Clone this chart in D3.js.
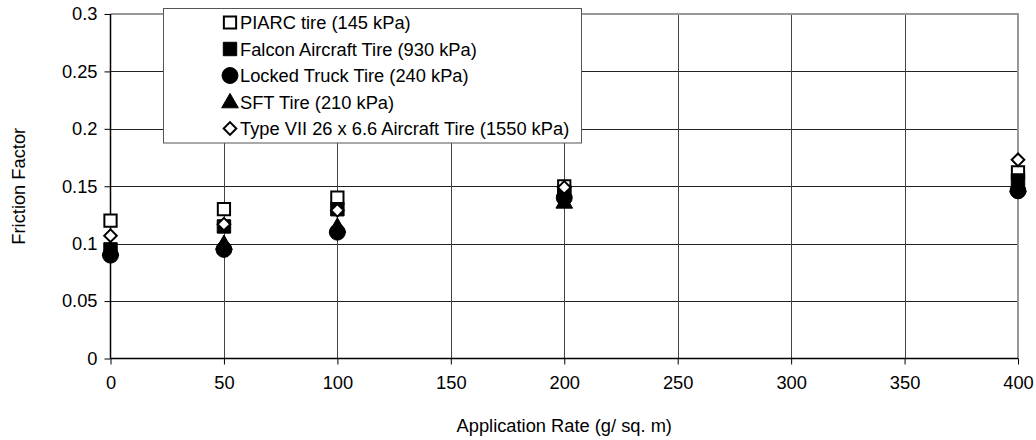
<!DOCTYPE html>
<html>
<head>
<meta charset="utf-8">
<script src="https://cdn.jsdelivr.net/npm/d3@7"></script>
<style>
  html, body { margin: 0; padding: 0; background: #fff; }
  svg { display: block; font-family: "Liberation Sans", Arial, sans-serif; }
</style>
</head>
<body>
<svg id="chart" width="1036" height="440"></svg>
<script>
// Application rates (g/ sq. m)
const rates = [0, 50, 100, 200, 400];

// Friction factor per tire type
const piarc   = [0.12, 0.13, 0.14, 0.15, 0.162];
const falcon  = [0.095, 0.115, 0.13, 0.145, 0.155];
const locked  = [0.09, 0.095, 0.11, 0.14, 0.146];
const sft     = [0.095, 0.10, 0.115, 0.136, 0.15];
const typeVII = [0.107, 0.117, 0.129, 0.149, 0.173];

const seriesNames = [
  "PIARC tire (145 kPa)",
  "Falcon Aircraft Tire (930 kPa)",
  "Locked Truck Tire (240 kPa)",
  "SFT Tire (210 kPa)",
  "Type VII 26 x 6.6 Aircraft Tire (1550 kPa)"
];

const xTicks = [0, 50, 100, 150, 200, 250, 300, 350, 400];
const yTicks = [0, 0.05, 0.1, 0.15, 0.2, 0.25, 0.3];

const series = [
  { name: seriesNames[0], values: piarc,   shape: "square",   fill: "#fff" },
  { name: seriesNames[1], values: falcon,  shape: "square",   fill: "#000" },
  { name: seriesNames[2], values: locked,  shape: "circle",   fill: "#000" },
  { name: seriesNames[3], values: sft,     shape: "triangle", fill: "#000" },
  { name: seriesNames[4], values: typeVII, shape: "diamond",  fill: "#fff" }
];

const FONT = 18.3;
const svg = d3.select("#chart");
const plotL = 110.5, plotR = 1018, plotT = 14, plotB = 358.5;

const x = d3.scaleLinear().domain([0, 400]).range([plotL, plotR]);
const y = d3.scaleLinear().domain([0, 0.3]).range([plotB, plotT]);

// gridlines
const grid = svg.append("g");
grid.selectAll("line.h").data(yTicks.filter(d => d > 0)).join("line")
  .attr("x1", plotL).attr("x2", plotR)
  .attr("y1", d => Math.round(y(d)) + 0.5).attr("y2", d => Math.round(y(d)) + 0.5)
  .attr("stroke", "#222").attr("stroke-width", 1);
grid.selectAll("line.v").data(xTicks.filter(d => d > 0)).join("line")
  .attr("y1", plotT).attr("y2", plotB)
  .attr("x1", d => Math.round(x(d)) + 0.5).attr("x2", d => Math.round(x(d)) + 0.5)
  .attr("stroke", "#444").attr("stroke-width", 1);

// plot frame (top and right sides)
svg.append("path")
  .attr("d", `M${plotL},${plotT}H${plotR}V${plotB}`)
  .attr("fill", "none").attr("stroke", "#999").attr("stroke-width", 2);

// axes
const yAxis = d3.axisLeft(y).tickValues(yTicks).tickSize(6).tickPadding(7)
  .tickFormat(d => String(+d.toFixed(2)));
const gy = svg.append("g").attr("transform", `translate(${plotL},0)`).call(yAxis);
const xAxis = d3.axisBottom(x).tickValues(xTicks).tickSize(6).tickPadding(12);
const gx = svg.append("g").attr("transform", `translate(0,${plotB})`).call(xAxis);
[gx, gy].forEach(g => {
  g.select(".domain").attr("stroke", "#000").attr("stroke-width", 1.5);
  g.selectAll(".tick line").attr("stroke", "#000");
  g.selectAll(".tick text").attr("font-size", FONT).attr("fill", "#000")
    .attr("font-family", "'Liberation Sans', Arial, sans-serif");
});
gx.select(".domain").attr("d", `M${plotL},0H${plotR}`);
gy.select(".domain").attr("d", `M0,${plotB}V${plotT}`);

// axis titles
svg.append("text").attr("x", (plotL + plotR) / 2).attr("y", 432)
  .attr("text-anchor", "middle").attr("font-size", FONT).text("Application Rate (g/ sq. m)");
svg.append("text").attr("transform", `translate(25,${(plotT + plotB) / 2}) rotate(-90)`)
  .attr("text-anchor", "middle").attr("font-size", FONT).text("Friction Factor");

// marker shapes
const symbolFor = {
  openSquare: d3.symbol(d3.symbolSquare, 150),
  square: d3.symbol(d3.symbolSquare, 180),
  circle: d3.symbol(d3.symbolCircle, 200),
  triangle: d3.symbol(d3.symbolTriangle, 120),
  diamond: d3.symbol(d3.symbolSquare, 80)
};
function drawMarker(g, shape, fill) {
  const key = (shape === "square" && fill === "#fff") ? "openSquare" : shape;
  const p = g.append("path").attr("d", symbolFor[key]())
    .attr("fill", fill).attr("stroke", "#000")
    .attr("stroke-width", fill === "#fff" ? 2 : 1);
  if (shape === "diamond") p.attr("transform", "rotate(45)");
  if (shape === "triangle") p.attr("transform", "translate(0,1)");
  return p;
}

// data points
series.forEach(s => {
  const g = svg.append("g");
  s.values.forEach((v, i) => {
    const m = g.append("g").attr("transform", `translate(${x(rates[i])},${y(v)})`);
    drawMarker(m, s.shape, s.fill);
  });
});

// legend
const lg = svg.append("g");
const items = series.map((s, i) => ({ s, cy: 22.5 + i * 26.5 }));
items.forEach(({ s, cy }) => {
  lg.append("text").attr("class", "lt").attr("x", 240).attr("y", cy + 6.5)
    .attr("font-size", FONT).text(s.name);
});
let maxW = 0;
lg.selectAll("text.lt").each(function () { maxW = Math.max(maxW, this.getComputedTextLength()); });
lg.insert("rect", ":first-child").attr("x", 163.5).attr("y", 8.5)
  .attr("width", Math.round(240 + maxW + 12 - 163.5)).attr("height", 134.5)
  .attr("fill", "#fff").attr("stroke", "#555").attr("stroke-width", 1);
items.forEach(({ s, cy }) => {
  const m = lg.append("g").attr("transform", `translate(230,${cy})`);
  drawMarker(m, s.shape, s.fill);
});
</script>
</body>
</html>
